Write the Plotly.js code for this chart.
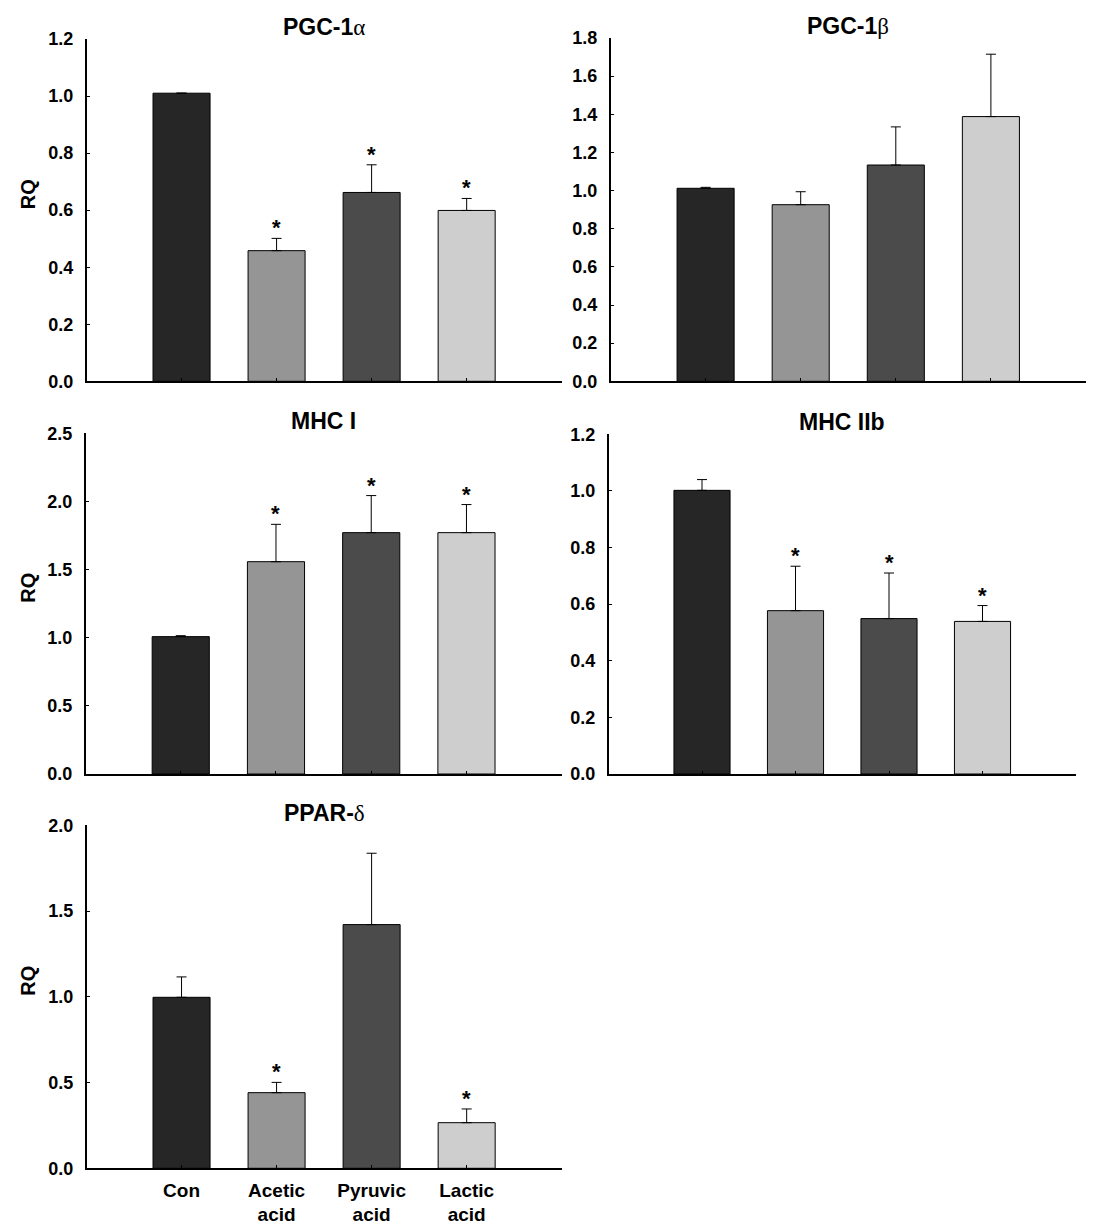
<!DOCTYPE html>
<html>
<head>
<meta charset="utf-8">
<script src="https://cdn.plot.ly/plotly-3.0.1.min.js"></script>
<style>html,body{margin:0;padding:0;background:#fff;}#chart{width:1093px;height:1224px;}</style>
</head>
<body>
<div id="chart"></div>
<script>
// ---- data ----
const categories = ['Con', 'Acetic<br>acid', 'Pyruvic<br>acid', 'Lactic<br>acid'];
const barColors = ['#262626', '#959595', '#4b4b4b', '#cecece'];

const pgc1aMean = [1.01, 0.458, 0.662, 0.599];
const pgc1aErr  = [0.0, 0.043, 0.097, 0.042];
const pgc1aSig  = [false, true, true, true];

const pgc1bMean = [1.012, 0.926, 1.134, 1.388];
const pgc1bErr  = [0.005, 0.068, 0.200, 0.327];
const pgc1bSig  = [false, false, false, false];

const mhc1Mean = [1.008, 1.558, 1.771, 1.771];
const mhc1Err  = [0.007, 0.274, 0.272, 0.206];
const mhc1Sig  = [false, true, true, true];

const mhc2bMean = [1.002, 0.577, 0.549, 0.539];
const mhc2bErr  = [0.038, 0.157, 0.161, 0.056];
const mhc2bSig  = [false, true, true, true];

const ppardMean = [0.997, 0.441, 1.421, 0.266];
const ppardErr  = [0.119, 0.060, 0.416, 0.080];
const ppardSig  = [false, true, false, true];

const greek = s => '<span style="font-family:Liberation Serif;font-weight:normal">' + s + '</span>';
const panelTitles = ['PGC-1' + greek('α'), 'PGC-1' + greek('β'), 'MHC I', 'MHC IIb', 'PPAR-' + greek('δ')];
const yRanges = [[0, 1.2], [0, 1.8], [0, 2.5], [0, 1.2], [0, 2.0]];
const yDticks = [0.2, 0.2, 0.5, 0.2, 0.5];
const showRQ = [true, false, true, false, true];
const showCats = [false, false, false, false, true];

// ---- layout geometry (pixels) ----
const W = 1093, H = 1224;
const boxes = [
  {x0: 86.5, x1: 561.7, y0: 39, y1: 381.3},
  {x0: 610.5, x1: 1086, y0: 38, y1: 381.3},
  {x0: 85.5, x1: 561.7, y0: 433.3, y1: 774},
  {x0: 608.5, x1: 1076, y0: 434.3, y1: 774},
  {x0: 86.5, x1: 561.7, y0: 825.3, y1: 1168.3}
];
const means = [pgc1aMean, pgc1bMean, mhc1Mean, mhc2bMean, ppardMean];
const errs = [pgc1aErr, pgc1bErr, mhc1Err, mhc2bErr, ppardErr];
const sigs = [pgc1aSig, pgc1bSig, mhc1Sig, mhc2bSig, ppardSig];

const FONT = 'Liberation Sans, Arial, sans-serif';
const traces = [];
const layout = {
  width: W, height: H,
  margin: {l: 0, r: 0, t: 0, b: 0},
  paper_bgcolor: '#fff', plot_bgcolor: 'rgba(0,0,0,0)',
  showlegend: false,
  font: {family: FONT, color: '#000'},
  annotations: []
};

for (let i = 0; i < 5; i++) {
  const n = i === 0 ? '' : String(i + 1);
  const b = boxes[i];
  traces.push({
    type: 'bar',
    x: categories,
    y: means[i],
    xaxis: 'x' + n, yaxis: 'y' + n,
    width: 0.6,
    marker: {color: barColors, line: {color: '#000', width: 1}},
    error_y: {type: 'data', symmetric: false, array: errs[i], arrayminus: [0, 0, 0, 0],
              color: '#000', thickness: 1, width: 5},
    hoverinfo: 'none'
  });
  layout['xaxis' + n] = {
    domain: [b.x0 / W, b.x1 / W],
    anchor: 'y' + n,
    type: 'category',
    range: [-1, 4],
    showline: true, linecolor: '#000', linewidth: 1.5,
    showgrid: false, zeroline: false,
    ticks: 'inside', ticklen: 3, tickcolor: '#000', tickwidth: 1,
    showticklabels: showCats[i],
    tickfont: {family: FONT, size: 19, color: '#000', weight: 'bold'},
    ticklabelstandoff: 4,
    fixedrange: true
  };
  layout['yaxis' + n] = {
    domain: [1 - b.y1 / H, 1 - b.y0 / H],
    anchor: 'x' + n,
    range: yRanges[i],
    dtick: yDticks[i], tick0: 0,
    tickformat: '.1f',
    showline: true, linecolor: '#000', linewidth: 1.5,
    showgrid: false, zeroline: false,
    ticks: 'inside', ticklen: 3, tickcolor: '#000', tickwidth: 1,
    tickfont: {family: FONT, size: 18, color: '#000', weight: 'bold'},
    ticklabelstandoff: 8,
    fixedrange: true
  };
  // panel title
  layout.annotations.push({
    xref: 'paper', yref: 'paper',
    x: (b.x0 + b.x1) / 2 / W, y: 1 - (b.y0 - 12) / H,
    xanchor: 'center', yanchor: 'middle',
    text: '<b>' + panelTitles[i] + '</b>',
    showarrow: false,
    font: {family: FONT, size: 23, color: '#000'}
  });
  if (showRQ[i]) {
    layout.annotations.push({
      xref: 'paper', yref: 'paper',
      x: 28 / W, y: 1 - ((b.y0 + b.y1) / 2 - 16) / H,
      xanchor: 'center', yanchor: 'middle',
      text: '<b>RQ</b>', textangle: -90,
      showarrow: false,
      font: {family: FONT, size: 20, color: '#000'}
    });
  }
  for (let k = 0; k < categories.length; k++) {
    if (!sigs[i][k]) continue;
    layout.annotations.push({
      xref: 'x' + n, yref: 'y' + n,
      x: categories[k], y: means[i][k] + errs[i][k],
      xanchor: 'center', yanchor: 'bottom', yshift: -4,
      text: '<b>*</b>', showarrow: false,
      font: {family: FONT, size: 22, color: '#000'}
    });
  }
}

Plotly.newPlot('chart', traces, layout, {displayModeBar: false, staticPlot: true});
</script>
</body>
</html>
